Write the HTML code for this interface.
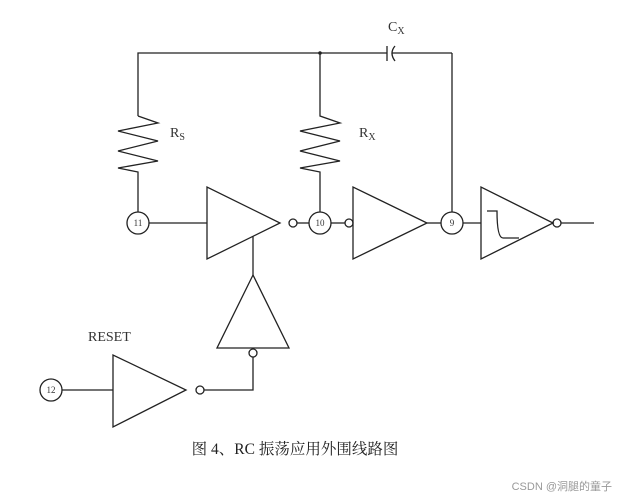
<!DOCTYPE html>
<html><head><meta charset="utf-8"><style>
html,body{margin:0;padding:0;background:#fff;width:621px;height:498px;overflow:hidden}
svg{display:block}
</style></head><body>
<svg width="621" height="498" viewBox="0 0 621 498" xmlns="http://www.w3.org/2000/svg" font-family="Liberation Serif, serif">
<g stroke="#222" stroke-width="1.3" fill="none">
<polyline points="138,116 138,53 387,53"/>
<line x1="392" y1="53" x2="452" y2="53"/>
<line x1="452" y1="53" x2="452" y2="212"/>
<line x1="387" y1="46" x2="387" y2="61"/>
<path d="M395,46 Q389,53 395,61"/>
<polyline points="138,116 158,123 118,131 158,141 118,151 158,161 118,168 138,172 138,212"/>
<polyline points="320,53 320,116 340,123 300,131 340,141 300,151 340,161 300,168 320,172 320,212"/>
<circle cx="138" cy="223" r="11"/>
<circle cx="320" cy="223" r="11"/>
<circle cx="452" cy="223" r="11"/>
<circle cx="51" cy="390" r="11"/>
<line x1="149" y1="223" x2="207" y2="223"/>
<line x1="297" y1="223" x2="309" y2="223"/>
<line x1="331" y1="223" x2="345" y2="223"/>
<line x1="427" y1="223" x2="441" y2="223"/>
<line x1="463" y1="223" x2="481" y2="223"/>
<line x1="561" y1="223" x2="594" y2="223"/>
<line x1="62" y1="390" x2="113" y2="390"/>
<polygon points="207,187 207,259 280,223"/>
<polygon points="353,187 353,259 427,223"/>
<polygon points="481,187 481,259 553,223"/>
<polygon points="113,355 113,427 186,390"/>
<polygon points="253,275 217,348 289,348"/>
<circle cx="293" cy="223" r="4"/>
<circle cx="349" cy="223" r="4"/>
<circle cx="557" cy="223" r="4"/>
<circle cx="200" cy="390" r="4"/>
<circle cx="253" cy="353" r="4"/>
<line x1="253" y1="236" x2="253" y2="275" />
<polyline points="204,390 253,390 253,357"/>
<path d="M487,211 L497,211 Q497,238 503,238 L519,238"/>
</g>
<circle cx="320" cy="53" r="1.8" fill="#222"/>
<g fill="#333" font-size="9" text-anchor="middle">
<text x="138" y="226">11</text><text x="320" y="226">10</text><text x="452" y="226">9</text><text x="51" y="393">12</text>
</g>
<g fill="#333" font-size="14">
<text x="170" y="137">R<tspan font-size="10" dy="3">S</tspan></text>
<text x="359" y="137">R<tspan font-size="10" dy="3">X</tspan></text>
<text x="388" y="31">C<tspan font-size="10" dy="3">X</tspan></text>
<text x="88" y="341">RESET</text>
</g>
<text x="295" y="454" text-anchor="middle" font-size="15.5" fill="#222" font-family="Liberation Serif, 'Noto Serif CJK SC', serif">图 4、RC 振荡应用外围线路图</text>
<text x="612" y="490" text-anchor="end" font-size="11" fill="#999" font-family="Liberation Sans, 'Noto Sans CJK SC', sans-serif">CSDN @洞腿的童子</text>
</svg>
</body></html>
